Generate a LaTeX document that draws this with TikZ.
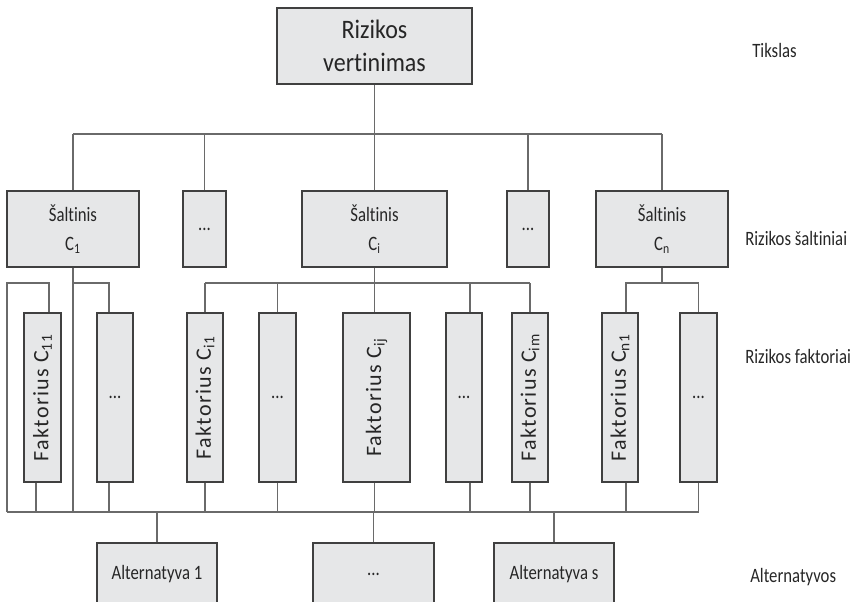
\documentclass[tikz,border=0pt]{standalone}
\usepackage{fontspec}
\setmainfont{Carlito}[FakeStretch=0.82, Ligatures={NoCommon}]
\newfontfamily\topfont{Carlito}[FakeStretch=0.9, Ligatures={NoCommon}]
\newfontfamily\rotfont{Carlito}[LetterSpace=6, Ligatures={NoCommon}]
\usetikzlibrary{calc}
\definecolor{boxfill}{HTML}{E6E7E8}
\definecolor{boxdraw}{HTML}{404040}
\definecolor{linecol}{HTML}{6A6A6A}
\definecolor{txt}{HTML}{262626}
\newcommand{\rottext}[1]{\rotatebox{90}{\rotfont\fontsize{16.5}{18}\selectfont #1}}
\begin{document}
\begin{tikzpicture}[x=0.75pt,y=-0.75pt,
  box/.style={draw=boxdraw, fill=boxfill, line width=1.1pt, inner sep=0pt, text=txt,
    align=center, font=\fontsize{15.3}{21.75}\selectfont},
  sz/.style 2 args={minimum width=#1*0.75pt, minimum height=#2*0.75pt},
  conn/.style={draw=linecol, line width=1.2pt},
  lbl/.style={anchor=west, text=txt, inner sep=0pt, font=\fontsize{15.3}{16}\selectfont}]
\useasboundingbox (0,0) rectangle (855,602);

% helper levels
\coordinate (h1L) at (73,134);
\coordinate (h1R) at (662,134);
\coordinate (r1) at (0,283);
\coordinate (lt) at (7,283);
\coordinate (busL) at (7,512);
\coordinate (busR) at (699,512);

% top
\node[box, sz={195}{76}, font=\topfont\fontsize{20}{25}\selectfont] (top) at (374.5,46) {Rizikos\\vertinimas};

% sources
\node[box, sz={132}{76}] (C1) at (73,229) {Šaltinis\\C\textsubscript{1}};
\node[box, sz={43}{76}] (d1) at (204.5,229) {...};
\node[box, sz={145}{76}] (Ci) at (374.5,229) {Šaltinis\\C\textsubscript{i}};
\node[box, sz={42}{76}] (d2) at (528,229) {...};
\node[box, sz={132}{76}] (Cn) at (662,229) {Šaltinis\\C\textsubscript{n}};

% factors
\node[box, sz={37}{169}] (f11) at (42.5,397.5) {\rottext{Faktorius C\textsubscript{11}}};
\node[box, sz={36}{169}] (fd1) at (115,397.5) {...};
\node[box, sz={36}{169}] (fi1) at (205,397.5) {\rottext{Faktorius C\textsubscript{i1}}};
\node[box, sz={37}{169}] (fd2) at (277.5,397.5) {...};
\node[box, sz={67}{169}] (fij) at (376.5,397.5) {\rottext{Faktorius C\textsubscript{ij}}};
\node[box, sz={36}{169}] (fd3) at (464,397.5) {...};
\node[box, sz={36}{169}] (fim) at (530,397.5) {\rottext{Faktorius C\textsubscript{im}}};
\node[box, sz={36}{169}] (fn1) at (620,397.5) {\rottext{Faktorius C\textsubscript{n1}}};
\node[box, sz={37}{169}] (fd4) at (698.5,397.5) {...};

% alternatives
\node[box, sz={120}{62}] (a1) at (157,574) {Alternatyva 1};
\node[box, sz={121}{62}] (ad) at (373.5,574) {...};
\node[box, sz={120}{62}] (as) at (554,574) {Alternatyva s};

% labels
\node[lbl] (t1) at (752,50) {Tikslas};
\node[lbl] (t2) at (745,238) {Rizikos šaltiniai};
\node[lbl] (t3) at (745,356) {Rizikos faktoriai};
\node[lbl] (t4) at (750,577) {Alternatyvos};

% top level connectors
\draw[conn] (top.south) -- (top.south |- h1L);
\draw[conn] (h1L) -- (h1R);
\foreach \n in {C1,d1,Ci,d2,Cn} \draw[conn] (\n.north) -- (\n.north |- h1L);

% group C1
\draw[conn] (C1.south) -- (C1.south |- busL);
\draw[conn] (C1.south |- r1) -| ([xshift=-4.5pt]fd1.north);
\draw[conn] (busL) -- (lt) -| ([xshift=4.875pt]f11.north);

% group Ci
\draw[conn] (Ci.south) -- (Ci.south |- fij.north);
\draw[conn] (fi1.north |- r1) -- (fim.north |- r1);
\draw[conn] (fi1.north) -- (fi1.north |- r1);
\draw[conn] (fd2.north) -- (fd2.north |- r1);
\draw[conn] ([xshift=4.5pt]fd3.north) -- ([xshift=4.5pt]fd3.north |- r1);
\draw[conn] (fim.north) -- (fim.north |- r1);

% group Cn
\draw[conn] (Cn.south) -- (Cn.south |- r1);
\draw[conn] ([xshift=4.5pt]fn1.north) |- (fd4.north |- r1) -- (fd4.north);

% bottom bus
\draw[conn] (busL) -- (busR);
\draw[conn] ([xshift=-4.875pt]f11.south) -- ([xshift=-4.875pt]f11.south |- busL);
\draw[conn] ([xshift=-4.5pt]fd1.south) -- ([xshift=-4.5pt]fd1.south |- busL);
\draw[conn] (fi1.south) -- (fi1.south |- busL);
\draw[conn] (fd2.south) -- (fd2.south |- busL);
\draw[conn] (Ci.south |- fij.south) -- (Ci.south |- busL);
\draw[conn] ([xshift=4.5pt]fd3.south) -- ([xshift=4.5pt]fd3.south |- busL);
\draw[conn] (fim.south) -- (fim.south |- busL);
\draw[conn] ([xshift=4.5pt]fn1.south) -- ([xshift=4.5pt]fn1.south |- busL);
\draw[conn] (fd4.south) -- (fd4.south |- busL);

% alternatives connectors
\draw[conn] (a1.north) -- (a1.north |- busL);
\draw[conn] (ad.north) -- (ad.north |- busL);
\draw[conn] (as.north) -- (as.north |- busL);
\end{tikzpicture}
\end{document}
